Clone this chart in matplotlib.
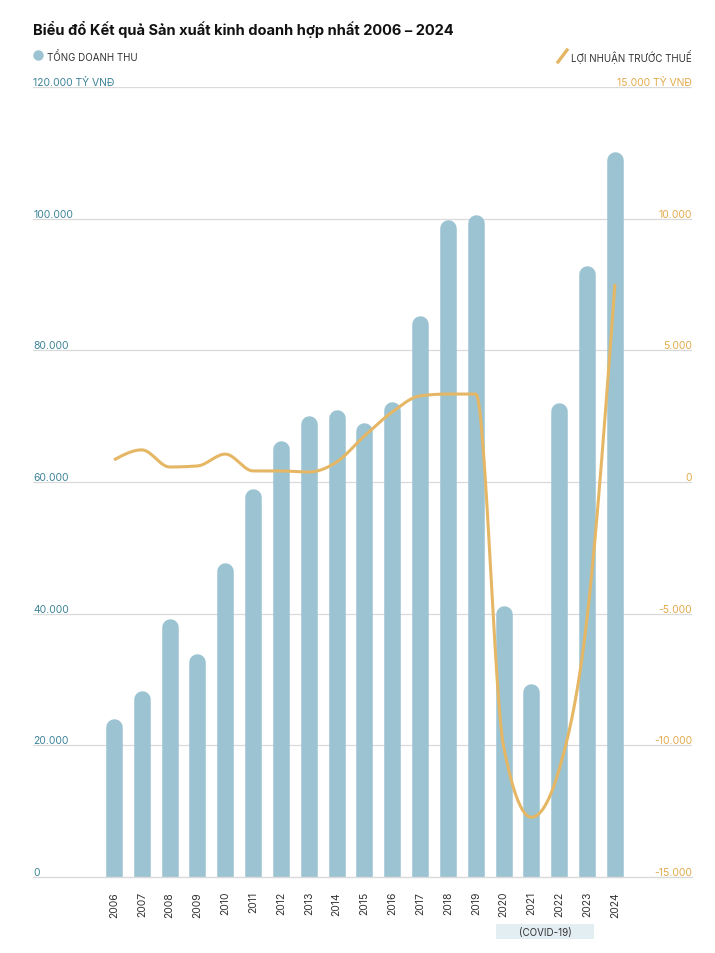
import matplotlib
matplotlib.use("Agg")
import matplotlib.pyplot as plt
from matplotlib.lines import Line2D
from matplotlib.patches import Rectangle
import matplotlib.transforms as mtransforms
import numpy as np

plt.rcParams['font.family'] = ['Inter', 'DejaVu Sans']

years = [str(y) for y in range(2006, 2025)]
revenue = [24000, 28300, 39300, 33900, 47800, 59000, 66300, 70000, 71000, 69000,
           72200, 85200, 99900, 100600, 41200, 29300, 72000, 92800, 110100]
profit = [840, 1220, 570, 610, 1060, 420, 420, 380, 760, 1750,
          2660, 3270, 3340, 3340, -10050, -12730, -10900, -5150, 7520]

left_ticks = [0, 20000, 40000, 60000, 80000, 100000]
right_ticks = [-15000, -10000, -5000, 0, 5000, 10000]

bar_col = '#9BC3D1'
line_col = '#E5B765'
left_col = '#3F8499'
right_col = '#E2AA4C'
grid_col = '#DADADA'


def fmt(v):
    s = '{:,}'.format(abs(int(v))).replace(',', '.')
    return ('-' if v < 0 else '') + s


def monotone(x, y, n=30):
    # monotone cubic (like d3 curveMonotoneX)
    x = np.asarray(x, float)
    y = np.asarray(y, float)
    h = np.diff(x)
    s = np.diff(y) / h
    t = np.zeros(len(x))
    for i in range(1, len(x) - 1):
        s0, s1 = s[i - 1], s[i]
        p = (s0 * h[i] + s1 * h[i - 1]) / (h[i - 1] + h[i])
        t[i] = (np.sign(s0) + np.sign(s1)) * min(abs(s0), abs(s1), 0.5 * abs(p))
    t[0] = (3 * s[0] - t[1]) / 2
    t[-1] = (3 * s[-1] - t[-2]) / 2
    xs, ys = [], []
    for i in range(len(x) - 1):
        u = np.linspace(0, 1, n)
        h00 = 2 * u**3 - 3 * u**2 + 1
        h10 = u**3 - 2 * u**2 + u
        h01 = -2 * u**3 + 3 * u**2
        h11 = u**3 - u**2
        xs.extend(x[i] + u * h[i])
        ys.extend(h00 * y[i] + h10 * h[i] * t[i] + h01 * y[i + 1] + h11 * h[i] * t[i + 1])
    return np.array(xs), np.array(ys)


W, H = 715, 954
fig = plt.figure(figsize=(W / 100, H / 100), dpi=100)
ax_l, ax_r, ax_b, ax_t = 33, 692, 878, 88
ax = fig.add_axes([ax_l / W, 1 - ax_b / H, (ax_r - ax_l) / W, (ax_b - ax_t) / H])
ax2 = ax.twinx()

x = np.arange(len(years))
x0 = 114
step = 27.83
xmin = -(x0 - ax_l) / step
xmax = xmin + (ax_r - ax_l) / step
ax.set_xlim(xmin, xmax)
ax.set_ylim(0, 120000)
ax2.set_ylim(-15000, 15000)

# rounded bars
bar_px = 16.5
r_data = (bar_px / 2) * 120000 / (ax_b - ax_t)
tops = [v - r_data for v in revenue]
ax.vlines(x, -r_data * 2, tops, colors=bar_col, linewidth=bar_px * 72 / 100,
          capstyle='round', zorder=2)

# grid
for v in left_ticks[1:] + [120000]:
    ax.axhline(v, color=grid_col, lw=0.9, zorder=1)
ax.axhline(0, color=grid_col, lw=1.0, zorder=3, clip_on=False)

# profit line (drawn on ax2 above bars)
ax.set_zorder(1)
ax2.set_zorder(2)
ax2.patch.set_visible(False)
sx, sy = monotone(x, profit)
ax2.plot(sx, sy, color=line_col, lw=2.2, solid_capstyle='butt', zorder=3)

for a in (ax, ax2):
    for sp in a.spines.values():
        sp.set_visible(False)
    a.set_yticks([])

ax.set_xticks(x)
ax.set_xticklabels(years, rotation=90, fontsize=7.5, color='#333333')
ax.tick_params(axis='x', length=0, pad=10)

# y labels above gridlines
for v in left_ticks:
    ax.text(0, v, fmt(v), transform=ax.get_yaxis_transform(), ha='left', va='bottom',
            fontsize=7.5, color=left_col)
ax.text(0, 120000, '120.000 TỶ VNĐ', transform=ax.get_yaxis_transform(), ha='left',
        va='bottom', fontsize=7.5, color=left_col)
tr2 = mtransforms.blended_transform_factory(ax2.transAxes, ax2.transData)
for v in right_ticks:
    ax2.text(1, v, fmt(v), transform=tr2, ha='right', va='bottom',
             fontsize=7.5, color=right_col)
ax2.text(1, 15000, '15.000 TỶ VNĐ', transform=tr2, ha='right', va='bottom',
         fontsize=7.5, color=right_col)

# covid note
trc = mtransforms.blended_transform_factory(ax.transData, ax.transAxes)
ax.add_patch(Rectangle((13.73, (ax_b - 940) / (ax_b - ax_t)), 3.52, 15 / (ax_b - ax_t),
                       transform=trc, facecolor='#E3EEF2', edgecolor='none', clip_on=False))
ax.text(15.49, (ax_b - 933) / (ax_b - ax_t), '(COVID-19)', transform=trc, ha='center',
        va='center', fontsize=7, color='#333333')

# title and legend
fig.text(33 / W, 1 - 30 / H, 'Biểu đổ Kết quả Sản xuất kinh doanh hợp nhất 2006 – 2024',
         fontsize=10.55, fontweight='bold', color='#111111', va='center', ha='left')
fig.add_artist(Line2D([38 / W], [1 - 56 / H], marker='o', markersize=6.5,
                      color=bar_col, transform=fig.transFigure))
fig.text(47 / W, 1 - 57 / H, 'TỔNG DOANH THU', fontsize=7, color='#333333',
         va='center', ha='left')
fig.add_artist(Line2D([558 / W, 567 / W], [1 - 63 / H, 1 - 51 / H], color=line_col,
                      lw=2.4, transform=fig.transFigure))
fig.text(692 / W, 1 - 57 / H, 'LỢI NHUẬN TRƯỚC THUẾ', fontsize=7, color='#333333',
         va='center', ha='right')

fig.savefig('out.png', dpi=100, facecolor='white')
